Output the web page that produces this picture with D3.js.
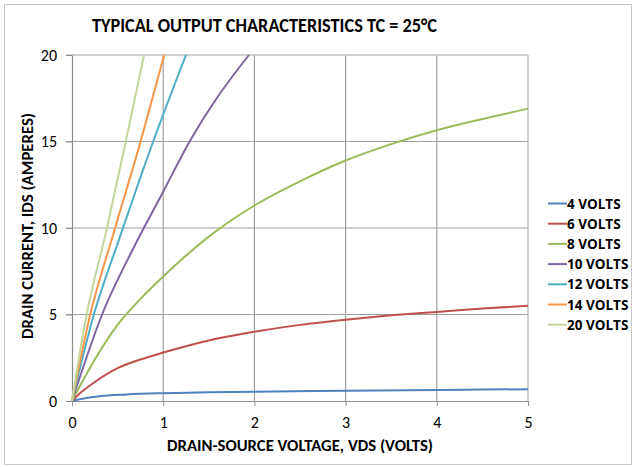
<!DOCTYPE html>
<html>
<head>
<meta charset="utf-8">
<script src="https://cdn.jsdelivr.net/npm/d3@7"></script>
<style>
  body { margin: 0; background: #fff; }
  text { font-family: Calibri, Carlito, "Open Sans", sans-serif; }
</style>
</head>
<body>
<div id="chart"></div>
<script>
// gate voltage series, each with its own [vds, ids] points
const seriesNames = ['4 VOLTS', '6 VOLTS', '8 VOLTS', '10 VOLTS', '12 VOLTS', '14 VOLTS', '20 VOLTS'];
const seriesColors = ['#4f81bd', '#c0504d', '#9bbb59', '#8064a2', '#4bacc6', '#f79646', '#c3d69b'];

const v4 = [[0, 0], [0.1, 0.12], [0.3, 0.28], [0.6, 0.38], [1, 0.45], [1.5, 0.5], [2, 0.54], [3, 0.59], [4, 0.64], [5, 0.68]];
const v6 = [[0, 0], [0.1, 0.5], [0.25, 1.1], [0.5, 1.9], [0.75, 2.4], [1, 2.8], [1.5, 3.5], [2, 4.0], [2.5, 4.4], [3, 4.7], [3.5, 4.95], [4, 5.15], [4.5, 5.35], [5, 5.5]];
const v8 = [[0, 0], [0.25, 2.4], [0.5, 4.4], [0.75, 5.9], [1, 7.2], [1.5, 9.5], [2, 11.3], [2.5, 12.7], [3, 13.9], [3.5, 14.85], [4, 15.65], [4.5, 16.3], [5, 16.9]];
const v10 = [[0, 0], [0.33, 5], [0.67, 8.8], [1, 12.1], [1.29, 15], [1.6, 17.6], [1.94, 20]];
const v12 = [[0, 0], [0.24, 5], [0.52, 9.4], [0.89, 15], [1.25, 20]];
const v14 = [[0, 0], [0.2, 5], [0.45, 9.6], [0.73, 14.6], [1.01, 20]];
const v20 = [[0, 0], [0.16, 5], [0.37, 9.7], [0.59, 15], [0.79, 20]];
const seriesData = [v4, v6, v8, v10, v12, v14, v20];

const xTicks = [0, 1, 2, 3, 4, 5];
const yTicks = [0, 5, 10, 15, 20];

const width = 637, height = 467;
const plot = { left: 72, right: 528, top: 55, bottom: 401 };

const svg = d3.select('#chart').append('svg')
    .attr('width', width)
    .attr('height', height);

// outer frame
svg.append('rect')
    .attr('x', 4.5).attr('y', 4.5)
    .attr('width', 627).attr('height', 460)
    .attr('fill', '#fff')
    .attr('stroke', '#c8c8c8');

const x = d3.scaleLinear().domain([0, 5]).range([plot.left, plot.right]);
const y = d3.scaleLinear().domain([0, 20]).range([plot.bottom, plot.top]);

// gridlines
svg.append('g').selectAll('line')
    .data(xTicks.slice(1))
    .enter().append('line')
    .attr('x1', d => x(d)).attr('x2', d => x(d))
    .attr('y1', plot.top).attr('y2', plot.bottom)
    .attr('stroke', d => d === 5 ? '#bfbfbf' : '#a0a0a0')
    .attr('stroke-width', d => d === 5 ? 1.5 : 1.2);

svg.append('g').selectAll('line')
    .data(yTicks.slice(1))
    .enter().append('line')
    .attr('x1', plot.left - 6).attr('x2', plot.right)
    .attr('y1', d => y(d)).attr('y2', d => y(d))
    .attr('stroke', d => d === 20 ? '#bfbfbf' : '#a0a0a0')
    .attr('stroke-width', d => d === 20 ? 1.5 : 1.2);

// axes
const xAxis = svg.append('g')
    .attr('transform', `translate(0,${plot.bottom})`)
    .call(d3.axisBottom(x).tickValues(xTicks).tickFormat(d3.format('d')).tickSize(5).tickSizeOuter(0));
const yAxis = svg.append('g')
    .attr('transform', `translate(${plot.left},0)`)
    .call(d3.axisLeft(y).tickValues(yTicks).tickFormat(d3.format('d')).tickSize(6).tickSizeOuter(0));

[xAxis, yAxis].forEach(a => {
    a.select('.domain').attr('stroke', '#8c8c8c').attr('stroke-width', 1.2);
    a.selectAll('.tick line').attr('stroke', '#8c8c8c');
    a.selectAll('.tick text')
        .attr('fill', '#000')
        .style('font-size', '16px')
        .style('font-family', 'Calibri, Carlito, "Open Sans", sans-serif');
});
xAxis.selectAll('.tick text').attr('y', 16).attr('dy', '0.71em');
yAxis.selectAll('.tick text').attr('x', -15);

// curves
const line = d3.line()
    .x(d => x(d[0]))
    .y(d => y(d[1]))
    .curve(d3.curveMonotoneX);

svg.append('g').selectAll('path')
    .data(seriesData)
    .enter().append('path')
    .attr('d', line)
    .attr('fill', 'none')
    .attr('stroke', (d, i) => seriesColors[i])
    .attr('stroke-width', 2);

// title and axis labels
svg.append('text')
    .attr('x', 92).attr('y', 32)
    .attr('textLength', 345)
    .attr('lengthAdjust', 'spacingAndGlyphs')
    .style('font-size', '20px')
    .style('font-weight', 'bold')
    .text('TYPICAL OUTPUT CHARACTERISTICS TC = 25°C');

svg.append('text')
    .attr('x', 167).attr('y', 451)
    .attr('textLength', 266)
    .attr('lengthAdjust', 'spacingAndGlyphs')
    .style('font-size', '16px')
    .style('font-weight', 'bold')
    .text('DRAIN-SOURCE VOLTAGE, VDS (VOLTS)');

svg.append('text')
    .attr('transform', 'translate(33,339) rotate(-90)')
    .attr('textLength', 226)
    .attr('lengthAdjust', 'spacingAndGlyphs')
    .style('font-size', '16px')
    .style('font-weight', 'bold')
    .text('DRAIN CURRENT, IDS (AMPERES)');

// legend
const legend = svg.append('g').selectAll('g')
    .data(seriesNames)
    .enter().append('g')
    .attr('transform', (d, i) => `translate(548,${203.5 + i * 20.2})`);

legend.append('line')
    .attr('x1', 0).attr('x2', 19)
    .attr('stroke', (d, i) => seriesColors[i])
    .attr('stroke-width', 2);

legend.append('text')
    .attr('x', 19).attr('y', 5)
    .style('font-family', '"Open Sans", sans-serif')
    .style('font-size', '13.5px')
    .style('font-weight', 'bold')
    .text(d => d);
</script>
</body>
</html>
